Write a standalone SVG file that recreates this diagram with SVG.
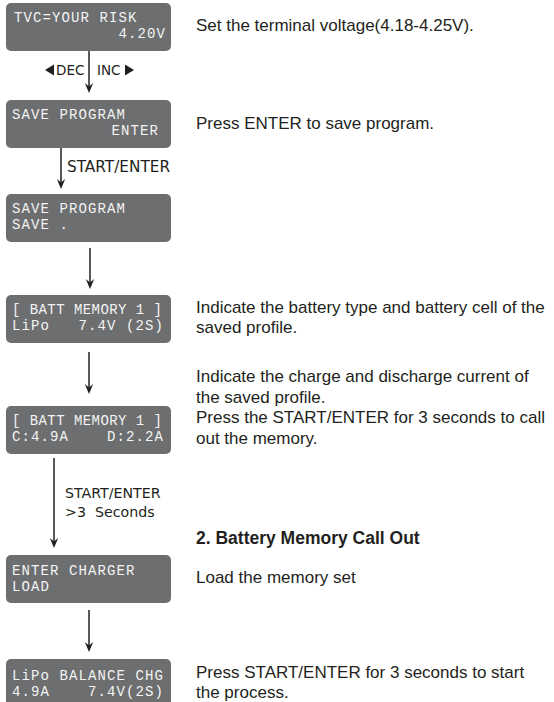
<svg xmlns="http://www.w3.org/2000/svg" width="554" height="702" viewBox="0 0 554 702">
<style>
.lcd{fill:#6d6e70}
.lt{font-family:"Liberation Mono","DejaVu Sans Mono",monospace;font-size:14px;letter-spacing:1.1px;fill:#f4f4f4}
.desc{font-family:"Liberation Sans",Arial,sans-serif;font-size:17px;fill:#231f20}
.head{font-family:"Liberation Sans",Arial,sans-serif;font-size:17.5px;font-weight:bold;fill:#231f20}
.lab{font-family:"DejaVu Sans",Verdana,sans-serif;fill:#231f20}
.conn{stroke:#231f20;stroke-width:1.5;fill:none;marker-end:url(#ah)}
</style>
<defs>
<marker id="ah" markerUnits="userSpaceOnUse" viewBox="-11 -6 12 12" refX="-4" refY="0" markerWidth="12" markerHeight="12" orient="auto" overflow="visible">
<path d="M0,0 L-10,-4.2 L-6.5,0 L-10,4.2 Z" fill="#231f20"/>
</marker>
</defs>
<rect width="554" height="702" fill="#ffffff"/>

<g id="node1">
<rect class="lcd" x="6" y="3" width="165" height="48" rx="5"/>
<text class="lt" x="14" y="22">TVC=YOUR RISK</text>
<text class="lt" x="166" y="38" text-anchor="end">4.20V</text>
</g>
<g id="node2">
<rect class="lcd" x="6" y="100" width="165" height="48" rx="5"/>
<text class="lt" x="12" y="119">SAVE PROGRAM</text>
<text class="lt" x="159" y="135" text-anchor="end">ENTER</text>
</g>
<g id="node3">
<rect class="lcd" x="6" y="194" width="165" height="48" rx="5"/>
<text class="lt" x="12" y="213">SAVE PROGRAM</text>
<text class="lt" x="12" y="229">SAVE .</text>
</g>
<g id="node4">
<rect class="lcd" x="6" y="295" width="165" height="48" rx="5"/>
<text class="lt" x="12" y="314" xml:space="preserve" textLength="151" lengthAdjust="spacing">[ BATT MEMORY 1 ]</text>
<text class="lt" x="12" y="330" xml:space="preserve">LiPo   7.4V (2S)</text>
</g>
<g id="node5">
<rect class="lcd" x="6" y="406" width="165" height="48" rx="5"/>
<text class="lt" x="12" y="425" xml:space="preserve" textLength="151" lengthAdjust="spacing">[ BATT MEMORY 1 ]</text>
<text class="lt" x="12" y="441" xml:space="preserve">C:4.9A    D:2.2A</text>
</g>
<g id="node6">
<rect class="lcd" x="6" y="555" width="165" height="48" rx="5"/>
<text class="lt" x="12" y="575">ENTER CHARGER</text>
<text class="lt" x="12" y="591">LOAD</text>
</g>
<g id="node7">
<rect class="lcd" x="6" y="659" width="165" height="48" rx="5"/>
<text class="lt" x="12" y="680">LiPo BALANCE CHG</text>
<text class="lt" x="12" y="696" xml:space="preserve">4.9A    7.4V(2S)</text>
</g>

<g id="connectors">
<path class="conn" d="M89,51 V89"/>
<path class="conn" d="M61,148 V185"/>
<path class="conn" d="M90,248 V285"/>
<path class="conn" d="M89,352 V390"/>
<path class="conn" d="M54,458 V544"/>
<path class="conn" d="M89,610 V648"/>
</g>

<g id="labels">
<polygon points="45,70 54,64.5 54,75.5" fill="#231f20"/>
<text class="lab" x="56" y="75" font-size="13.5">DEC</text>
<text class="lab" x="97" y="75" font-size="13.5">INC</text>
<polygon points="134,70 125,64.5 125,75.5" fill="#231f20"/>
<text class="lab" x="67" y="172" font-size="15.3">START/ENTER</text>
<text class="lab" x="65" y="498" font-size="14.2">START/ENTER</text>
<text class="lab" x="65" y="517" font-size="14.2" xml:space="preserve">&gt;3  Seconds</text>
</g>

<g id="descriptions">
<text class="desc" x="196" y="31">Set the terminal voltage(4.18-4.25V).</text>
<text class="desc" x="196" y="129">Press ENTER to save program.</text>
<text class="desc" x="196" y="313">Indicate the battery type and battery cell of the</text>
<text class="desc" x="196" y="333">saved profile.</text>
<text class="desc" x="196" y="382">Indicate the charge and discharge current of</text>
<text class="desc" x="196" y="402.5">the saved profile.</text>
<text class="desc" x="196" y="423">Press the START/ENTER for 3 seconds to call</text>
<text class="desc" x="196" y="443.5">out the memory.</text>
<text class="head" x="196" y="544">2. Battery Memory Call Out</text>
<text class="desc" x="196" y="583">Load the memory set</text>
<text class="desc" x="196" y="678">Press START/ENTER for 3 seconds to start</text>
<text class="desc" x="196" y="698">the process.</text>
</g>
</svg>
